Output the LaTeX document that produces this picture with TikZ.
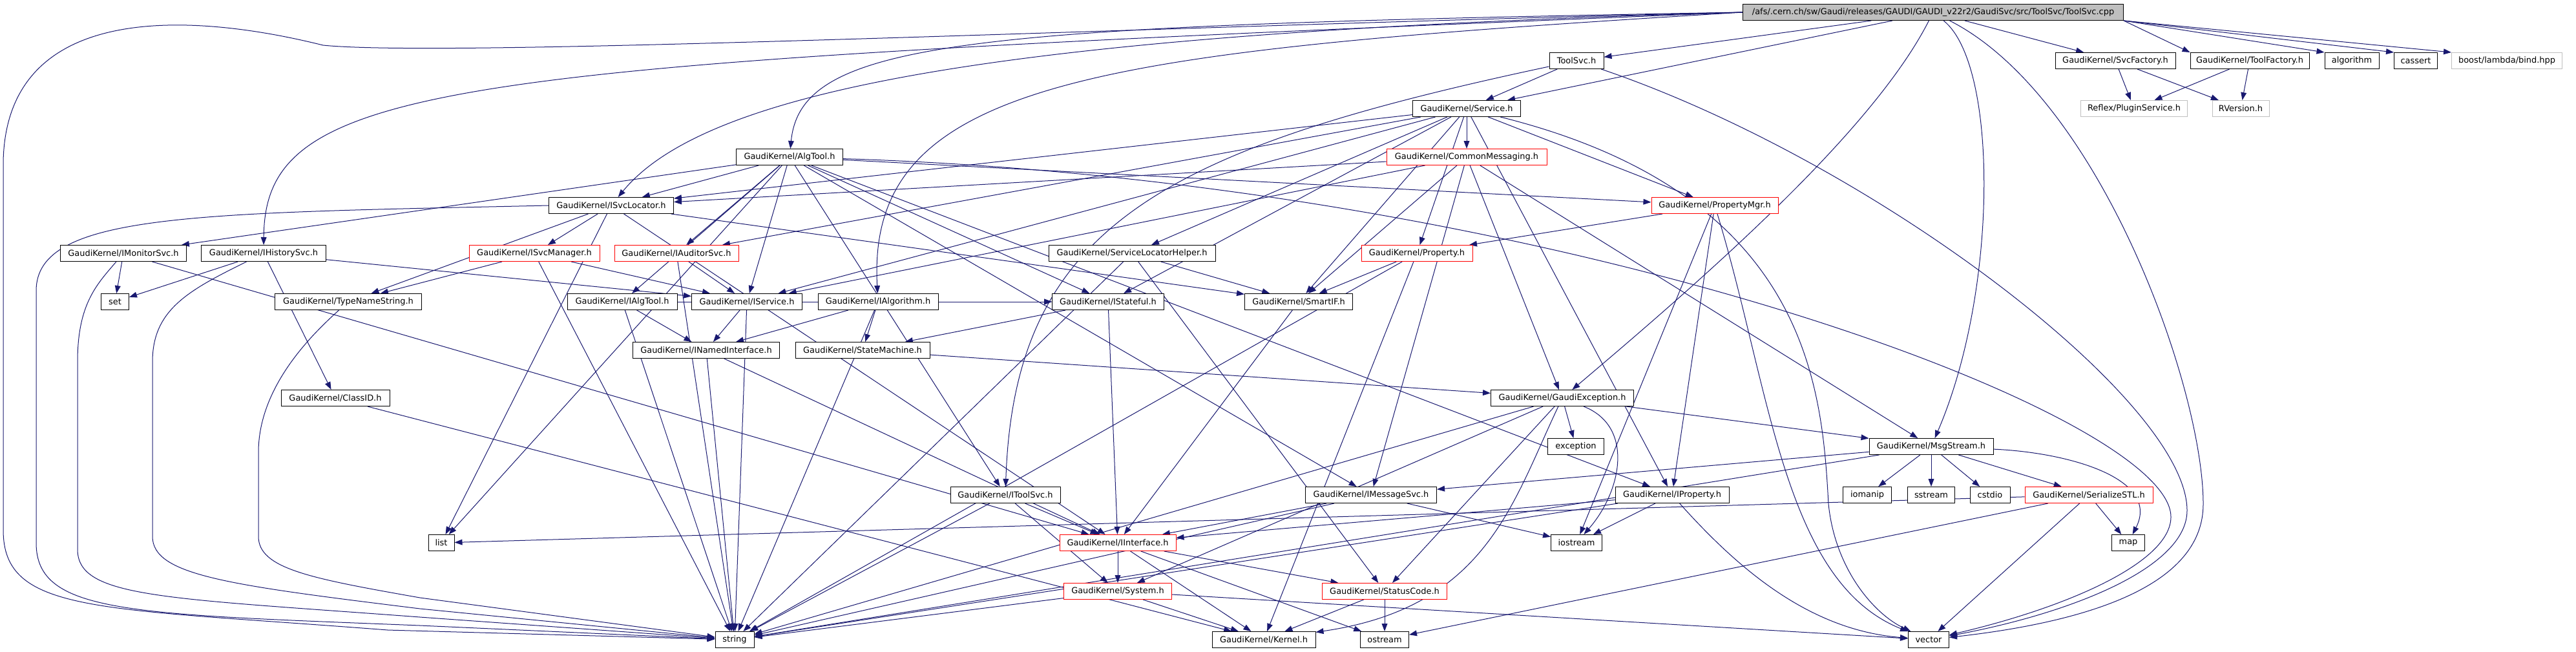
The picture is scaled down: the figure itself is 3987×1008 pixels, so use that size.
\documentclass[tikz,border=0pt]{standalone}
\usepackage{fontspec}
\setmainfont{DejaVu Sans}
\usetikzlibrary{arrows.meta,backgrounds}

\definecolor{edgeblue}{HTML}{191970}
\definecolor{boxgray}{HTML}{BFBFBF}

\tikzset{
  incfile/.style={draw=black, fill=white, line width=0.25mm, inner sep=0pt,
    minimum height=6.25mm, minimum width=#1*0.25mm, font=\fontsize{9.2}{11}\selectfont},
  trunc/.style={incfile=#1, draw=red},
  missing/.style={incfile=#1, draw=boxgray},
  srcfile/.style={incfile=#1, fill=boxgray},
  dep/.style={draw=edgeblue, line width=0.25mm, -{Triangle[length=3mm,width=2.2mm]}}
}

\begin{document}
\begin{tikzpicture}[x=0.25mm,y=-0.25mm]
	\useasboundingbox (0,0) rectangle (3987,1008);
	% the source file
	\node[srcfile=589] (root) at (2992,19) {/afs/.cern.ch/sw/Gaudi/releases/GAUDI/GAUDI\_v22r2/GaudiSvc/src/ToolSvc/ToolSvc.cpp};
	% row 2
	\node[incfile=84] (toolsvch) at (2440,94) {ToolSvc.h};
	\node[incfile=186] (svcfac) at (3274,94) {GaudiKernel/SvcFactory.h};
	\node[incfile=184] (toolfac) at (3482,94) {GaudiKernel/ToolFactory.h};
	\node[incfile=84] (algorithm) at (3640,94) {algorithm};
	\node[incfile=67] (cassert) at (3739,94) {cassert};
	\node[missing=171] (bind) at (3880,94) {boost/lambda/bind.hpp};
	% row 3
	\node[incfile=167] (service) at (2270,168) {GaudiKernel/Service.h};
	\node[missing=165] (plugin) at (3303,168) {Reflex/PluginService.h};
	\node[missing=88] (rversion) at (3468,168) {RVersion.h};
	% row 4
	\node[incfile=165] (algtool) at (1222,243) {GaudiKernel/AlgTool.h};
	\node[trunc=248] (commsg) at (2270,243) {GaudiKernel/CommonMessaging.h};
	% row 5
	\node[incfile=193] (isvcloc) at (946,318) {GaudiKernel/ISvcLocator.h};
	\node[trunc=196] (propmgr) at (2654,318) {GaudiKernel/PropertyMgr.h};
	% row 6
	\node[incfile=195] (imonitor) at (191,392) {GaudiKernel/IMonitorSvc.h};
	\node[incfile=193] (ihistory) at (408,392) {GaudiKernel/IHistorySvc.h};
	\node[trunc=202] (isvcmgr) at (827,392) {GaudiKernel/ISvcManager.h};
	\node[trunc=192] (iauditor) at (1047,392) {GaudiKernel/IAuditorSvc.h};
	\node[incfile=258] (slhelper) at (1752,392) {GaudiKernel/ServiceLocatorHelper.h};
	\node[trunc=172] (property) at (2193,392) {GaudiKernel/Property.h};
	% row 7
	\node[incfile=43] (set) at (178,467) {set};
	\node[incfile=227] (typename) at (539,467) {GaudiKernel/TypeNameString.h};
	\node[incfile=170] (ialgtool) at (963,467) {GaudiKernel/IAlgTool.h};
	\node[incfile=171] (iservice) at (1156,467) {GaudiKernel/IService.h};
	\node[incfile=186] (ialgorithm) at (1359,467) {GaudiKernel/IAlgorithm.h};
	\node[incfile=173] (istateful) at (1715,467) {GaudiKernel/IStateful.h};
	\node[incfile=167] (smartif) at (2010,467) {GaudiKernel/SmartIF.h};
	% row 8
	\node[incfile=227] (inamed) at (1093,542) {GaudiKernel/INamedInterface.h};
	\node[incfile=208] (statemach) at (1335,542) {GaudiKernel/StateMachine.h};
	% row 9
	\node[incfile=168] (classid) at (519,616) {GaudiKernel/ClassID.h};
	\node[incfile=221] (gexc) at (2418,616) {GaudiKernel/GaudiException.h};
	% row 10
	\node[incfile=87] (exception) at (2439,691) {exception};
	\node[incfile=192] (msgstream) at (2989,691) {GaudiKernel/MsgStream.h};
	% row 11
	\node[incfile=170] (itoolsvc) at (1556,766) {GaudiKernel/IToolSvc.h};
	\node[incfile=203] (imsgsvc) at (2122,766) {GaudiKernel/IMessageSvc.h};
	\node[incfile=176] (iproperty) at (2588,766) {GaudiKernel/IProperty.h};
	\node[incfile=75] (iomanip) at (2890,766) {iomanip};
	\node[incfile=73] (sstream) at (2989,766) {sstream};
	\node[incfile=62] (cstdio) at (3080,766) {cstdio};
	\node[trunc=198] (serialize) at (3233,766) {GaudiKernel/SerializeSTL.h};
	% row 12
	\node[incfile=40] (list) at (683,840) {list};
	\node[trunc=180] (iinterface) at (1730,840) {GaudiKernel/IInterface.h};
	\node[incfile=79] (iostream) at (2440,840) {iostream};
	\node[incfile=51] (map) at (3294,840) {map};
	% row 13
	\node[trunc=167] (system) at (1730,915) {GaudiKernel/System.h};
	\node[trunc=193] (statuscode) at (2143,915) {GaudiKernel/StatusCode.h};
	% row 14
	\node[incfile=60] (string) at (1137,990) {string};
	\node[incfile=160] (kernel) at (1956,990) {GaudiKernel/Kernel.h};
	\node[incfile=75] (ostream) at (2143,990) {ostream};
	\node[incfile=63] (vector) at (2985,990) {vector};

	\begin{scope}[on background layer]
	% straight includes
	\foreach \a/\b in {root/toolsvch, root/service, root/svcfac,
		toolsvch/service,
		service/commsg, service/propmgr, service/property, service/smartif, service/slhelper, service/iservice,
		service/isvcloc, service/iauditor, service/iproperty, service/istateful,
		svcfac/plugin, svcfac/rversion, toolfac/plugin, toolfac/rversion,
		algtool/imonitor, algtool/isvcloc, algtool/iauditor, algtool/ialgtool, algtool/iservice, algtool/istateful,
		algtool/itoolsvc, algtool/imsgsvc, algtool/iproperty, algtool/propmgr, algtool/list,
		commsg/msgstream, commsg/isvcloc, commsg/iservice, commsg/smartif, commsg/imsgsvc, commsg/gexc,
		isvcloc/isvcmgr, isvcloc/typename, isvcloc/list, isvcloc/iinterface, isvcloc/smartif,
		propmgr/property, propmgr/iproperty, propmgr/iostream,
		imonitor/set, imonitor/iinterface,
		ihistory/set, ihistory/classid, ihistory/iservice,
		isvcmgr/typename, isvcmgr/iservice, isvcmgr/string,
		iauditor/iservice, iauditor/string,
		slhelper/smartif, slhelper/string, slhelper/statuscode,
		property/smartif, property/string, property/kernel,
		ialgtool/inamed, ialgtool/istateful, ialgtool/string,
		iservice/inamed, iservice/istateful, iservice/string,
		ialgorithm/inamed, ialgorithm/statemach, ialgorithm/string,
		istateful/iinterface, istateful/statemach,
		smartif/iinterface,
		inamed/iinterface, inamed/string,
		statemach/gexc,
		classid/kernel,
		gexc/exception, gexc/statuscode, gexc/msgstream, gexc/string, gexc/system,
		msgstream/imsgsvc, msgstream/iomanip, msgstream/sstream, msgstream/cstdio, msgstream/serialize, msgstream/string,
		itoolsvc/iinterface, itoolsvc/system, itoolsvc/string,
		imsgsvc/iinterface, imsgsvc/iostream, imsgsvc/string,
		iproperty/iinterface, iproperty/iostream, iproperty/string,
		serialize/vector, serialize/map, serialize/list, serialize/ostream,
		iinterface/system, iinterface/kernel, iinterface/statuscode, iinterface/ostream,
		system/kernel, system/string, system/vector,
		statuscode/kernel, statuscode/ostream}
	\draw[dep] (\a) -- (\b);

	% the source file's row of system headers
	\foreach \b in {toolfac, algorithm, cassert, bind}
	\draw[dep] (root.south east) -- (\b.north west);

	% long ones from the source file
	\draw[dep] (root.west) .. controls (1500,40) and (1240,60) .. (algtool);
	\draw[dep] (root.west) .. controls (1600,50) and (1100,130) .. (isvcloc);
	\draw[dep] (root.west) .. controls (700,100) and (410,120) .. (ihistory);
	\draw[dep] (root.west) .. controls (1700,80) and (1340,120) .. (ialgorithm);
	\draw[dep] (root) .. controls (2900,200) and (2650,420) .. (gexc);
	\draw[dep] (root) .. controls (3093,100) and (3093,450) .. (msgstream);
	\draw[dep] (root.west) .. controls (1800,40) and (700,90) .. (500,70)
		.. controls (300,20) and (10,0) .. (5,250) -- (5,820)
		.. controls (5,950) and (150,940) .. (600,975) -- (string);

	% loops round the left into string
	\draw[dep] (isvcloc.west) .. controls (300,330) and (56,330) .. (56,450) -- (56,840)
		.. controls (56,950) and (200,950) .. (650,968) -- (string);
	\draw[dep] (imonitor) .. controls (150,440) and (120,470) .. (120,560) -- (120,850)
		.. controls (120,925) and (250,925) .. (650,955) -- (string);
	\draw[dep] (ihistory) .. controls (290,450) and (236,480) .. (236,560) -- (236,830)
		.. controls (236,890) and (350,905) .. (650,942) -- (string);
	\draw[dep] (typename) .. controls (480,520) and (400,600) .. (400,700) -- (400,830)
		.. controls (400,880) and (480,895) .. (650,925) -- (string);

	% loops round the right into vector
	\draw[dep] (root) .. controls (3250,150) and (3410,600) .. (3410,780)
		.. controls (3410,900) and (3250,960) .. (vector);
	\draw[dep] (toolsvch) .. controls (2900,250) and (3385,620) .. (3385,790)
		.. controls (3385,880) and (3200,950) .. (vector);
	\draw[dep] (algtool) .. controls (2400,280) and (3360,640) .. (3360,800)
		.. controls (3360,870) and (3200,940) .. (vector);
	\draw[dep] (service) .. controls (2800,300) and (2820,600) .. (2830,780)
		.. controls (2840,880) and (2900,950) .. (vector);
	\draw[dep] (propmgr) .. controls (2740,600) and (2760,900) .. (vector);
	\draw[dep] (iproperty) .. controls (2690,880) and (2800,975) .. (vector);

	% the rest
	\draw[dep] (toolsvch) .. controls (1800,230) and (1570,350) .. (itoolsvc);
	\draw[dep] (msgstream) .. controls (3200,700) and (3345,740) .. (map);
	\draw[dep] (gexc) .. controls (2340,780) and (2300,940) .. (kernel);
	\draw[dep] (gexc) .. controls (2530,660) and (2510,760) .. (iostream);
	\end{scope}
\end{tikzpicture}
\end{document}
